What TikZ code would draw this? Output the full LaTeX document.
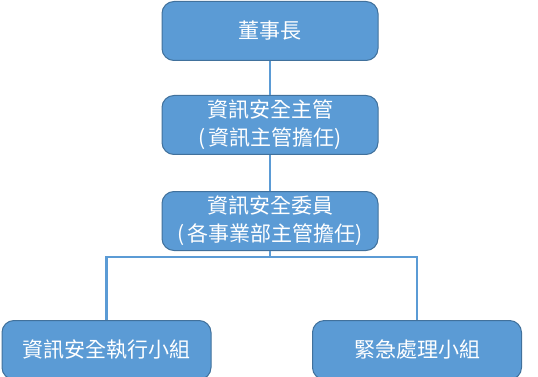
\documentclass[tikz,border=0pt]{standalone}
\usepackage{fontspec}
\newfontfamily\cjk{Noto Sans CJK TC}
\usepackage{xcolor}
\usetikzlibrary{positioning}
\definecolor{officeblue}{HTML}{5B9BD5}
\definecolor{edgeblue}{HTML}{41719C}
\tikzset{
  orgbox/.style={rectangle, rounded corners=12pt, draw=edgeblue, fill=officeblue,
                 line width=1pt, align=center, text=white, inner sep=2pt,
                 font=\cjk\fontsize{21}{28}\selectfont, minimum height=59pt},
  link/.style={draw=officeblue, line width=2.2pt},
}

\begin{document}
\begin{tikzpicture}[x=1pt, y=1pt]
  \useasboundingbox (0,0) rectangle (538,-377);
  \node[orgbox, minimum width=216pt] (chair) at (270,-31) {董事長};
  \node[orgbox, minimum width=216pt, below=34pt of chair] (ciso) {資訊安全主管\\(\,資訊主管擔任)};
  \node[orgbox, minimum width=216pt, below=36pt of ciso] (cmte) {資訊安全委員\\(\,各事業部主管擔任)};

  \node[orgbox, minimum width=209pt, below=69pt of cmte, xshift=-163.5pt] (exec) {資訊安全執行小組};
  \node[orgbox, minimum width=209pt, below=69pt of cmte, xshift=147pt] (emerg) {緊急處理小組};

  \draw[link] (chair) -- (ciso);
  \draw[link] (ciso) -- (cmte);
  \draw[link] (cmte) -- ++(0,-36) coordinate (split);
  \draw[link] (split) -| (exec);
  \draw[link] (split) -| (emerg);
\end{tikzpicture}
\end{document}
